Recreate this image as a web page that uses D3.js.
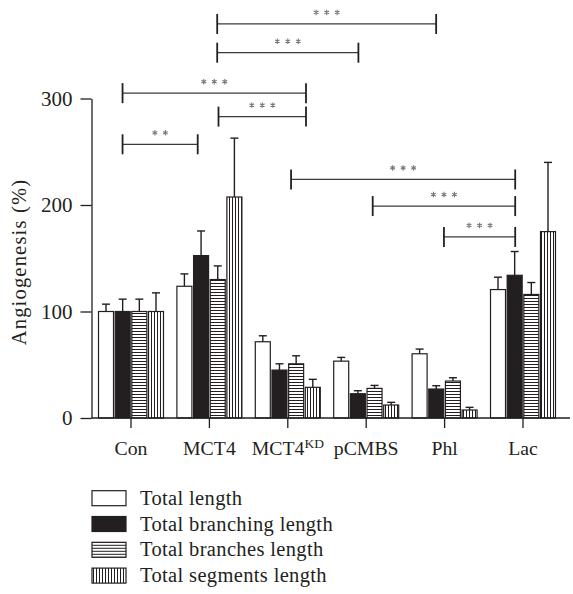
<!DOCTYPE html>
<html>
<head>
<meta charset="utf-8">
<script src="https://cdn.jsdelivr.net/npm/d3@7"></script>
<style>
  body { margin: 0; background: #fff; }
  text { font-family: "Liberation Serif", "DejaVu Serif", serif; fill: #231f20; }
</style>
</head>
<body>
<div id="chart"></div>
<script>
// groups on the x axis
var categories = ["Con", "MCT4", "MCT4KD", "pCMBS", "Phl", "Lac"];
// series (legend order)
var seriesNames = ["Total length", "Total branching length", "Total branches length", "Total segments length"];
var seriesFill = ["white", "#231f20", "url(#hz)", "url(#vt)"];
// means (%)
var totalLength    = [100, 123.7, 71.6, 53.4, 60.3, 120.6];
var branchingLen   = [100, 152.5, 45.0, 22.8, 27.2, 134.0];
var branchesLen    = [100, 130.0, 50.9, 27.8, 34.7, 116.0];
var segmentsLen    = [100, 207.5, 28.8, 12.2,  7.5, 175.0];
// error (upper whisker length)
var totalLengthErr  = [6.9, 11.6, 5.6, 3.5, 4.4, 11.6];
var branchingErr    = [11.6, 23.1, 5.9, 2.8, 3.1, 22.3];
var branchesErr     = [11.6, 12.8, 7.5, 2.8, 3.1, 11.2];
var segmentsErr     = [17.5, 55.3, 7.5, 2.5, 2.5, 65.0];
var yTicks = [0, 100, 200, 300];

// significance brackets: [category, fraction across group], level in % units
var bracketFrom  = [["MCT4", 0.62], ["MCT4", 0.62], ["Con", 0.37], ["MCT4", 0.64], ["Con", 0.37], ["MCT4KD", 0.55], ["pCMBS", 0.6], ["Phl", 0.49]];
var bracketTo    = [["Phl", 0.37], ["pCMBS", 0.38], ["MCT4KD", 0.78], ["MCT4KD", 0.78], ["MCT4", 0.32], ["Lac", 0.38], ["Lac", 0.38], ["Lac", 0.38]];
var bracketLevel = [370, 343, 305, 283, 257, 224, 199, 170];
var bracketStars = [3, 3, 3, 3, 2, 3, 3, 3];

var means = [totalLength, branchingLen, branchesLen, segmentsLen];
var errs = [totalLengthErr, branchingErr, branchesErr, segmentsErr];

var data = [];
categories.forEach(function(c, i) {
  means.forEach(function(m, s) {
    data.push({cat: c, s: s, v: m[i], e: errs[s][i]});
  });
});

var W = 573, H = 594;
var svg = d3.select("#chart").append("svg").attr("width", W).attr("height", H);

var defs = svg.append("defs");
var hz = defs.append("pattern").attr("id", "hz").attr("patternUnits", "userSpaceOnUse")
  .attr("width", 4).attr("height", 3);
hz.append("rect").attr("width", 4).attr("height", 3).attr("fill", "white");
hz.append("line").attr("x1", 0).attr("x2", 4).attr("y1", 1.5).attr("y2", 1.5)
  .attr("stroke", "#231f20").attr("stroke-width", 1);
var vt = defs.append("pattern").attr("id", "vt").attr("patternUnits", "userSpaceOnUse")
  .attr("width", 3).attr("height", 4);
vt.append("rect").attr("width", 3).attr("height", 4).attr("fill", "white");
vt.append("line").attr("x1", 1.5).attr("x2", 1.5).attr("y1", 0).attr("y2", 4)
  .attr("stroke", "#231f20").attr("stroke-width", 1);

var axisX = 91.5, baseY = 418;

var x = d3.scaleBand().domain(categories).range([91.8, 562.2])
  .paddingInner(0.171).paddingOuter(0.0855);
var xs = d3.scaleBand().domain([0, 1, 2, 3]).range([0, x.bandwidth()]).paddingInner(0.1);
var y = d3.scaleLinear().domain([0, 300]).range([baseY, 98.5]);

function bx(p) { return x(p[0]) + p[1] * x.bandwidth(); }

// bars
svg.selectAll(".bar").data(data).enter().append("rect")
  .attr("class", "bar")
  .attr("x", function(d) { return x(d.cat) + xs(d.s); })
  .attr("width", xs.bandwidth())
  .attr("y", function(d) { return y(d.v); })
  .attr("height", function(d) { return baseY - y(d.v); })
  .attr("fill", function(d) { return seriesFill[d.s]; })
  .attr("stroke", "#231f20").attr("stroke-width", 1.2);

// error bars
var eb = svg.selectAll(".err").data(data).enter().append("g").attr("class", "err")
  .attr("stroke", "#231f20").attr("stroke-width", 1.4);
eb.append("line")
  .attr("x1", function(d) { return x(d.cat) + xs(d.s) + xs.bandwidth() / 2; })
  .attr("x2", function(d) { return x(d.cat) + xs(d.s) + xs.bandwidth() / 2; })
  .attr("y1", function(d) { return y(d.v); })
  .attr("y2", function(d) { return y(d.v + d.e); });
eb.append("line")
  .attr("x1", function(d) { return x(d.cat) + xs(d.s) + xs.bandwidth() / 2 - 4; })
  .attr("x2", function(d) { return x(d.cat) + xs(d.s) + xs.bandwidth() / 2 + 4; })
  .attr("y1", function(d) { return y(d.v + d.e); })
  .attr("y2", function(d) { return y(d.v + d.e); });

// y axis
var yAxis = d3.axisLeft(y).tickValues(yTicks).tickSize(11).tickSizeOuter(0).tickPadding(8);
var gy = svg.append("g").attr("transform", "translate(" + axisX + ",0)").call(yAxis);
gy.selectAll("path, line").attr("stroke", "#231f20").attr("stroke-width", 1.3);
gy.selectAll("text").style("font-family", "Liberation Serif, serif").style("font-size", "21px")
  .attr("fill", "#231f20");

// x axis
var xAxis = d3.axisBottom(x).tickSize(10).tickSizeOuter(0).tickFormat("");
var gx = svg.append("g").attr("transform", "translate(0," + baseY + ")").call(xAxis);
gx.select(".domain").remove();
gx.selectAll("line").attr("stroke", "#231f20").attr("stroke-width", 1.3);
svg.append("line").attr("x1", axisX).attr("x2", 570).attr("y1", baseY).attr("y2", baseY)
  .attr("stroke", "#231f20").attr("stroke-width", 1.3);

var xl = svg.selectAll(".xlab").data(categories).enter().append("text")
  .attr("class", "xlab")
  .attr("x", function(d) { return x(d) + x.bandwidth() / 2; })
  .attr("y", 454.5)
  .attr("text-anchor", "middle")
  .style("font-size", "19.8px");
xl.each(function(d) {
  var t = d3.select(this);
  if (d === "MCT4KD") {
    t.append("tspan").text("MCT4");
    t.append("tspan").attr("dy", -7).style("font-size", "13.5px").text("KD");
  } else {
    t.text(d);
  }
});

// y label
svg.append("text")
  .attr("transform", "translate(25.5,262) rotate(-90)")
  .attr("text-anchor", "middle")
  .style("font-size", "20.5px")
  .style("letter-spacing", "1.2px")
  .text("Angiogenesis (%)");

// significance brackets, stars drawn as grey asterisk symbols
var star = d3.symbol().type(d3.symbolAsterisk).size(20);
bracketLevel.forEach(function(lv, i) {
  var x1 = bx(bracketFrom[i]), x2 = bx(bracketTo[i]), yy = y(lv);
  var g = svg.append("g");
  g.append("line").attr("x1", x1).attr("x2", x2).attr("y1", yy).attr("y2", yy)
    .attr("stroke", "#3a3a3a").attr("stroke-width", 1.3);
  [x1, x2].forEach(function(xx) {
    g.append("line").attr("x1", xx).attr("x2", xx).attr("y1", yy - 10).attr("y2", yy + 10)
      .attr("stroke", "#231f20").attr("stroke-width", 1.8);
  });
  var n = bracketStars[i], cx = (x1 + x2) / 2;
  d3.range(n).forEach(function(k) {
    g.append("path").attr("d", star)
      .attr("transform", "translate(" + (cx + (k - (n - 1) / 2) * 10.5) + "," + (yy - 11.5) + ")")
      .attr("fill", "none").attr("stroke", "#777").attr("stroke-width", 1.1);
  });
});

// legend
var lg = svg.selectAll(".leg").data(seriesNames).enter().append("g")
  .attr("class", "leg")
  .attr("transform", function(d, i) { return "translate(92," + (498.2 + i * 25.8) + ")"; });
lg.append("rect").attr("x", 0).attr("y", -7.5).attr("width", 34).attr("height", 15)
  .attr("fill", function(d, i) { return seriesFill[i]; })
  .attr("stroke", "#231f20").attr("stroke-width", 1.2);
lg.append("text").attr("x", 48).attr("y", 6.5)
  .style("font-size", "20.5px")
  .style("letter-spacing", "0.35px")
  .text(function(d) { return d; });
</script>
</body>
</html>
